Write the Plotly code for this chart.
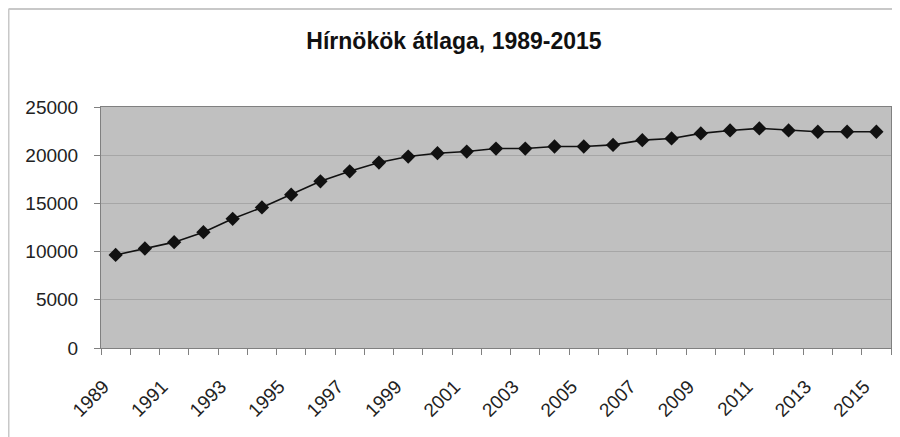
import plotly.graph_objects as go

years = list(range(1989, 2016))
publishers = [9650, 10320, 10980, 12010, 13400, 14580, 15900, 17290, 18330, 19240,
              19860, 20210, 20380, 20690, 20690, 20900, 20900, 21070, 21560, 21740,
              22260, 22570, 22780, 22570, 22430, 22430, 22430]
tick_years = list(range(1989, 2016, 2))
tick_labels = [str(y) for y in tick_years]

FONT = "Liberation Sans, Arial, sans-serif"

# page body has an 8px default margin; layout compensates for it
L, T, W, H = 93, 99, 790, 241

fig = go.Figure()
fig.add_trace(go.Scatter(
    x=years, y=publishers, mode="lines+markers",
    line=dict(color="#111111", width=1.6),
    marker=dict(symbol="diamond", size=11, color="#111111"),
    showlegend=False,
))

fig.update_layout(
    width=900, height=437,
    margin=dict(l=L, r=900 - L - W, t=T, b=437 - T - H),
    paper_bgcolor="white",
    plot_bgcolor="#c0c0c0",
    title=dict(text="<b>Hírnökök átlaga, 1989-2015</b>", x=446 / 900, xanchor="center",
               y=1 - 33 / 437, yanchor="middle",
               font=dict(family=FONT, size=23, color="#111111")),
    font=dict(family=FONT, size=19, color="#222222"),
    xaxis=dict(
        range=[1988.5, 2015.5], tickmode="array", tickvals=tick_years, ticktext=tick_labels,
        tickangle=-45, ticks="", showgrid=False, zeroline=False, automargin=False,
        showline=True, linecolor="#808080", linewidth=1, mirror=True,
        tickfont=dict(family=FONT, size=19, color="#222222"),
        minor=dict(ticks="outside", tick0=1988.5, dtick=1, ticklen=6,
                   tickcolor="#808080", tickwidth=1, showgrid=False),
        ticklabelstandoff=19, ticklabelshift=-12,
    ),
    yaxis=dict(
        range=[0, 25000], dtick=5000, tickformat="d", ticks="outside", ticklen=6,
        tickcolor="#808080", automargin=False,
        showgrid=True, gridcolor="#a6a6a6", gridwidth=1, zeroline=False,
        showline=True, linecolor="#808080", linewidth=1, mirror=True,
        tickfont=dict(family=FONT, size=19, color="#222222"),
        ticklabelstandoff=12,
    ),
    shapes=[
        dict(type="line", xref="paper", yref="paper", x0=(0.5 - L) / W, x1=1.2,
             y0=(T + H - 1) / H, y1=(T + H - 1) / H,
             line=dict(color="#c8c8c8", width=2)),
        dict(type="line", xref="paper", yref="paper", x0=(0.5 - L) / W, x1=(0.5 - L) / W,
             y0=(T + H - 1) / H, y1=-0.6,
             line=dict(color="#c8c8c8", width=2)),
    ],
)

fig.write_html("out.html")
